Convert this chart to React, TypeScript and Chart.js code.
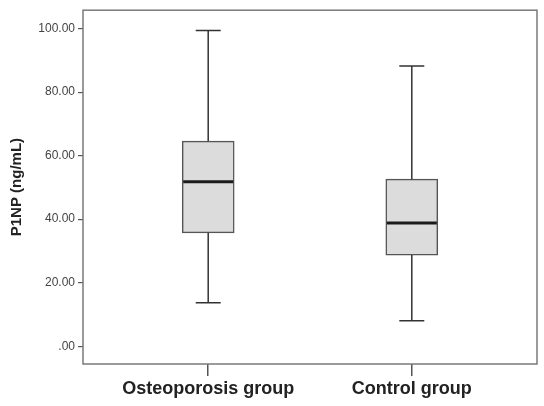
import React, { useEffect, useRef } from "react";
import { Chart, registerables } from "chart.js";

Chart.register(...registerables);

const categories = ["Osteoporosis group", "Control group"];
const positions = [1, 2];
const mins = [13.7, 8.0];
const q1s = [35.7, 28.7];
const medians = [51.8, 38.8];
const q3s = [64.6, 52.6];
const maxs = [99.4, 88.2];
const yTicks = [0, 20, 40, 60, 80, 100];

const boxPlugin = {
  id: "boxWhiskers",
  afterDatasetsDraw(chart: any) {
    const { ctx, scales, chartArea } = chart;
    const xs = scales.x;
    const ys = scales.y;
    ctx.save();
    for (let i = 0; i < positions.length; i++) {
      const cx = xs.getPixelForValue(positions[i]);
      const boxHalf = 26;
      const capHalf = 12.5;
      const pMin = ys.getPixelForValue(mins[i]);
      const pQ1 = ys.getPixelForValue(q1s[i]);
      const pMed = ys.getPixelForValue(medians[i]);
      const pQ3 = ys.getPixelForValue(q3s[i]);
      const pMax = ys.getPixelForValue(maxs[i]);
      ctx.strokeStyle = "#333333";
      ctx.lineWidth = 1.5;
      ctx.beginPath();
      ctx.moveTo(cx, pQ3);
      ctx.lineTo(cx, pMax);
      ctx.moveTo(cx - capHalf, pMax);
      ctx.lineTo(cx + capHalf, pMax);
      ctx.moveTo(cx, pQ1);
      ctx.lineTo(cx, pMin);
      ctx.moveTo(cx - capHalf, pMin);
      ctx.lineTo(cx + capHalf, pMin);
      ctx.stroke();
      ctx.strokeStyle = "#1a1a1a";
      ctx.lineWidth = 3;
      ctx.beginPath();
      ctx.moveTo(cx - boxHalf + 1, pMed);
      ctx.lineTo(cx + boxHalf - 1, pMed);
      ctx.stroke();
    }
    ctx.strokeStyle = "#7a7a7a";
    ctx.lineWidth = 1.5;
    ctx.strokeRect(chartArea.left, chartArea.top, chartArea.right - chartArea.left, chartArea.bottom - chartArea.top);
    ctx.restore();
  },
};

export default function App() {
  const ref = useRef<HTMLCanvasElement | null>(null);
  useEffect(() => {
    document.body.style.margin = "0";
    const canvas = ref.current;
    if (!canvas) return;
    const chart = new Chart(canvas, {
      type: "bar",
      data: {
        datasets: [
          {
            data: positions.map((p, i) => ({ x: p, y: [q1s[i], q3s[i]] })) as any,
            backgroundColor: "#dcdcdc",
            borderColor: "#555555",
            borderWidth: 1.5,
            borderSkipped: false,
            barThickness: 52,
          },
        ],
      },
      options: {
        animation: false,
        responsive: false,
        maintainAspectRatio: false,
        events: [],
        layout: { padding: { left: 0, top: 4, right: 7, bottom: 0 } },
        plugins: { legend: { display: false }, tooltip: { enabled: false } },
        scales: {
          x: {
            type: "linear",
            min: 0.385,
            max: 2.615,
            offset: false,
            afterBuildTicks: (scale: any) => {
              scale.ticks = positions.map((v) => ({ value: v }));
            },
            afterFit: (scale: any) => {
              scale.height = 42;
            },
            ticks: {
              autoSkip: false,
              maxRotation: 0,
              padding: 2,
              color: "#222222",
              font: { family: "Arial, 'Liberation Sans', sans-serif", size: 18, weight: "bold" },
              callback: (_v: any, i: number) => categories[i],
            },
            grid: { display: true, offset: false, drawOnChartArea: false, drawTicks: true, tickLength: 12, color: "#555555", lineWidth: 1.5 },
            border: { display: false },
          },
          y: {
            type: "linear",
            min: -5.6,
            max: 105.8,
            afterBuildTicks: (scale: any) => {
              scale.ticks = yTicks.map((v) => ({ value: v }));
            },
            afterFit: (scale: any) => {
              scale.width = 83;
            },
            ticks: {
              padding: 3,
              color: "#444444",
              font: { family: "Arial, 'Liberation Sans', sans-serif", size: 12 },
              callback: (v: any) => (v === 0 ? ".00" : Number(v).toFixed(2)),
            },
            grid: { display: true, drawOnChartArea: false, drawTicks: true, tickLength: 5, color: "#555555", lineWidth: 1.2 },
            border: { display: false },
            title: {
              display: true,
              text: "P1NP (ng/mL)",
              color: "#222222",
              padding: { top: 8, bottom: 0 },
              font: { family: "Arial, 'Liberation Sans', sans-serif", size: 15, weight: "bold" },
            },
          },
        },
      },
      plugins: [boxPlugin],
    } as any);
    return () => chart.destroy();
  }, []);
  return (
    <div style={{ width: 544, height: 406, background: "#ffffff" }}>
      <canvas ref={ref} width={544} height={406} style={{ display: "block" }} />
    </div>
  );
}
